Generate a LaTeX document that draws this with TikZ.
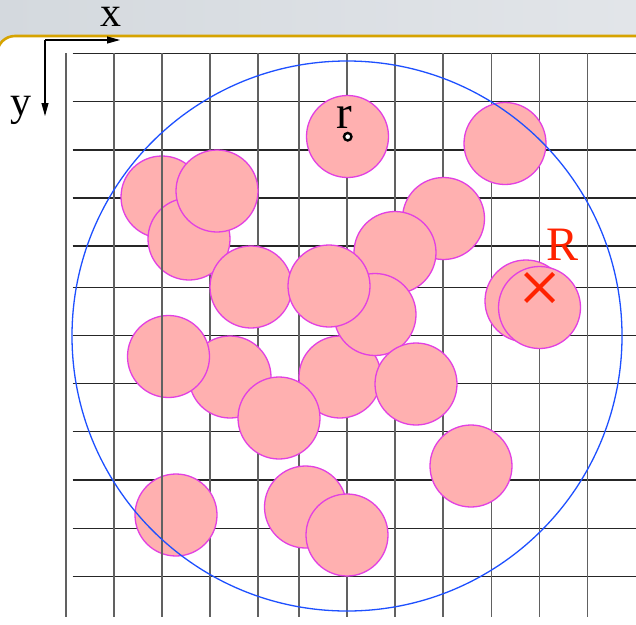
\documentclass[tikz,border=0pt]{standalone}
\usepackage{fontspec}
\setmainfont{Liberation Serif}
\usetikzlibrary{arrows.meta}
\definecolor{band}{RGB}{212,217,222}
\definecolor{bandr}{RGB}{226,229,233}
\definecolor{gold}{RGB}{214,163,0}
\definecolor{pinkfill}{RGB}{255,176,176}
\definecolor{pinkline}{RGB}{226,64,226}
\definecolor{bluecirc}{RGB}{30,80,255}
\definecolor{redmark}{RGB}{255,34,0}
\tikzset{
  particle/.style={circle, draw=pinkline, fill=pinkfill, line width=1.3pt, minimum size=82pt, inner sep=0pt},
  vline/.style={draw=black!62, line width=1.3pt},
  hline/.style={draw=black!85, line width=1.2pt},
  domainc/.style={circle, draw=bluecirc, line width=1.3pt, minimum size=550pt, inner sep=0pt},
  axisarrow/.style={draw=black, line width=1.1pt, -{Triangle[length=13pt,width=7pt]}},
  lbl/.style={anchor=base, inner sep=0pt, font=\fontsize{42}{42}\selectfont},
  xmark/.style={draw=redmark, line width=4pt},
}
\begin{document}
\begin{tikzpicture}[x=1pt,y=-1pt]
\useasboundingbox (0,0) rectangle (636,624);
% background band and white page
\shade[left color=band, right color=bandr] (0,0) rectangle (636,624);
\filldraw[fill=white, draw=gold, line width=2.6pt, rounded corners=18pt] (-3,36) rectangle (670,680);
% grid
\foreach \y in {53.3,101.7,150,198,246,287.3,335.5,383.5,431.7,480,528.3,576.7}
  \draw[hline] (72.7,\y) -- (636,\y);
\foreach \x in {66,114,162,210,258,299,347,395,443,491.5,539.5,587.5}
  \draw[vline] (\x,53.3) -- (\x,617);
% particles
\node[particle] (c1)  at (347.5,136.5) {};
\node[particle] (c2)  at (505,143.5) {};
\node[particle] (c3)  at (162,197) {};
\node[particle] (c5)  at (189,239) {};
\node[particle] (c4)  at (217,191) {};
\node[particle] (c8)  at (251,287) {};
\node[particle] (c6)  at (443.5,218.5) {};
\node[particle] (c7)  at (395,252.5) {};
\node[particle] (c15) at (340,377) {};
\node[particle] (c10) at (375,314.5) {};
\node[particle] (c9)  at (329,286) {};
\node[particle] (c14) at (230,377) {};
\node[particle] (c13) at (168.5,356.5) {};
\node[particle] (c17) at (279,418) {};
\node[particle] (c16) at (416,384) {};
\node[particle] (c18) at (471,466) {};
\node[particle] (c19) at (176,515) {};
\node[particle] (c20) at (305.5,507) {};
\node[particle] (c21) at (347,535) {};
\node[particle] (c11) at (526,301) {};
\node[particle] (c12) at (539.5,307.5) {};
% grid line drawn over the particles
\draw[vline] (162,53.3) -- (162,617);
% domain circle
\node[domainc] (dom) at (347,336) {};
% axes
\coordinate (o) at (45,40);
\coordinate (xe) at (120,40);
\coordinate (ye) at (45,116);
\draw[axisarrow] (o) -- (xe);
\draw[axisarrow] (o) -- (ye);
\node[lbl] (xl) at (110.5,26) {x};
\node[lbl] (yl) at (21,115) {y};
% r label and dot
\node[lbl, font=\fontsize{47}{47}\selectfont] (rl) at (344,128) {r};
\node[circle, draw=black, fill=white, line width=2.4pt, minimum size=7.5pt, inner sep=0pt] (rdot) at (347.7,136.7) {};
% R label and cross
\node[lbl, text=redmark, font=\fontsize{48}{48}\selectfont] (Rl) at (562,260) {R};
\coordinate (Rc) at (539.5,287.5);
\draw[xmark] ([shift={(-14,-14)}]Rc) -- ([shift={(14,14)}]Rc);
\draw[xmark] ([shift={(-14,14)}]Rc) -- ([shift={(14,-14)}]Rc);
\end{tikzpicture}
\end{document}
